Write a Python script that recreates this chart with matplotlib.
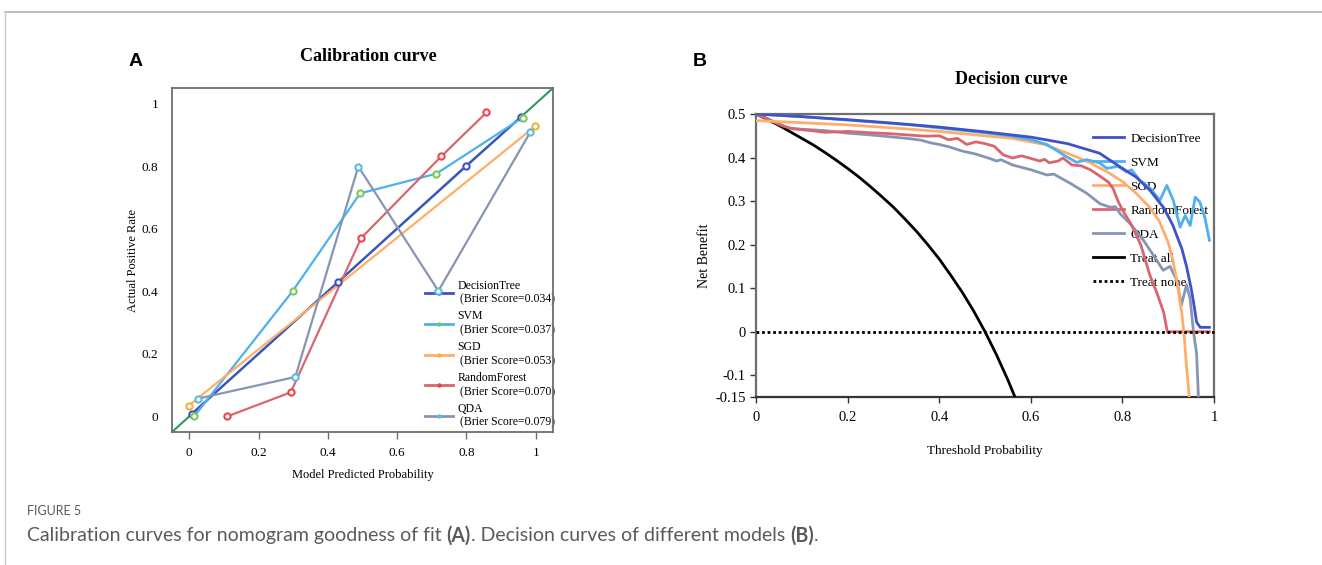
import matplotlib
matplotlib.use('Agg')
import matplotlib.pyplot as plt
from matplotlib.lines import Line2D

# ----------------------------------------------------------------------------------- #
#                                        Data                                         #
# ----------------------------------------------------------------------------------- #

# Calibration curve (A): mean predicted probability vs fraction of positives
models = ['DecisionTree', 'SVM', 'SGD', 'RandomForest', 'QDA']
brier = [0.034, 0.037, 0.053, 0.070, 0.079]

dt_pred = [0.008, 0.43, 0.798, 0.957]
dt_true = [0.009, 0.43, 0.80, 0.957]
svm_pred = [0.014, 0.298, 0.493, 0.713, 0.962]
svm_true = [0.0, 0.40, 0.713, 0.776, 0.955]
sgd_pred = [-0.002, 0.998]
sgd_true = [0.034, 0.927]
rf_pred = [0.110, 0.293, 0.496, 0.728, 0.858]
rf_true = [0.0, 0.077, 0.570, 0.832, 0.972]
qda_pred = [0.024, 0.306, 0.488, 0.719, 0.984]
qda_true = [0.0565, 0.126, 0.799, 0.401, 0.908]

# Decision curve (B): threshold probability vs net benefit
dt_thr = [0, 0.1, 0.2, 0.3, 0.4, 0.5, 0.6, 0.68, 0.75, 0.79, 0.83, 0.86, 0.89, 0.91,
          0.93, 0.94, 0.95, 0.955, 0.962, 0.97, 0.98, 0.99]
dt_nb = [0.5, 0.494, 0.487, 0.479, 0.47, 0.459, 0.447, 0.432, 0.41, 0.382, 0.355, 0.325,
         0.285, 0.245, 0.19, 0.15, 0.10, 0.07, 0.022, 0.01, 0.01, 0.01]

svm_thr = [0, 0.1, 0.2, 0.3, 0.35, 0.4, 0.5, 0.56, 0.6, 0.635, 0.678, 0.70, 0.722, 0.75,
           0.766, 0.79, 0.809, 0.82, 0.838, 0.86, 0.882, 0.897, 0.911, 0.926, 0.937,
           0.948, 0.959, 0.969, 0.98, 0.99]
svm_nb = [0.5, 0.494, 0.486, 0.478, 0.474, 0.468, 0.457, 0.449, 0.441, 0.43, 0.402, 0.389,
          0.395, 0.388, 0.375, 0.38, 0.367, 0.372, 0.348, 0.33, 0.302, 0.336, 0.302, 0.24,
          0.267, 0.244, 0.309, 0.298, 0.263, 0.21]

sgd_thr = [0, 0.1, 0.2, 0.3, 0.4, 0.5, 0.56, 0.63, 0.68, 0.73, 0.77, 0.8, 0.83, 0.86,
           0.88, 0.9, 0.91, 0.92, 0.93, 0.935, 0.94, 0.946]
sgd_nb = [0.485, 0.48, 0.475, 0.468, 0.46, 0.45, 0.444, 0.43, 0.41, 0.388, 0.365, 0.345,
          0.318, 0.285, 0.255, 0.205, 0.165, 0.11, 0.04, -0.01, -0.08, -0.15]

rf_thr = [0, 0.03, 0.06, 0.08, 0.12, 0.15, 0.2, 0.25, 0.29, 0.33, 0.37, 0.40, 0.42, 0.44,
          0.46, 0.48, 0.50, 0.52, 0.54, 0.56, 0.58, 0.60, 0.62, 0.63, 0.64, 0.66, 0.67,
          0.69, 0.71, 0.73, 0.75, 0.77, 0.78, 0.79, 0.80, 0.82, 0.84, 0.86, 0.875, 0.89,
          0.898, 0.93, 0.96, 0.99]
rf_nb = [0.5, 0.485, 0.472, 0.466, 0.462, 0.458, 0.46, 0.457, 0.455, 0.452, 0.449, 0.45,
         0.441, 0.444, 0.43, 0.436, 0.432, 0.426, 0.406, 0.399, 0.404, 0.398, 0.392, 0.396,
         0.388, 0.392, 0.399, 0.383, 0.381, 0.372, 0.358, 0.343, 0.328, 0.301, 0.28, 0.245,
         0.2, 0.13, 0.09, 0.045, 0.0, 0.0, 0.0, 0.0]

qda_thr = [0, 0.02, 0.04, 0.07, 0.1, 0.15, 0.2, 0.25, 0.29, 0.33, 0.36, 0.38, 0.40, 0.42,
           0.45, 0.48, 0.51, 0.525, 0.535, 0.56, 0.6, 0.635, 0.65, 0.686, 0.722, 0.751,
           0.773, 0.785, 0.795, 0.817, 0.846, 0.875, 0.889, 0.904, 0.918, 0.929, 0.94,
           0.948, 0.955, 0.962, 0.966]
qda_nb = [0.5, 0.492, 0.482, 0.468, 0.465, 0.462, 0.456, 0.452, 0.448, 0.444, 0.44, 0.434,
          0.43, 0.425, 0.415, 0.408, 0.398, 0.392, 0.395, 0.383, 0.372, 0.36, 0.362, 0.341,
          0.318, 0.294, 0.286, 0.287, 0.271, 0.248, 0.21, 0.164, 0.141, 0.15, 0.12, 0.062,
          0.108, 0.075, 0.002, -0.05, -0.15]

all_thr = [0, 0.025, 0.05, 0.075, 0.1, 0.125, 0.15, 0.175, 0.2, 0.225, 0.25, 0.275, 0.3,
           0.325, 0.35, 0.375, 0.4, 0.425, 0.45, 0.475, 0.5, 0.525, 0.55, 0.565]
all_nb = [0.5, 0.487, 0.474, 0.459, 0.444, 0.429, 0.412, 0.394, 0.375, 0.355, 0.333,
          0.31, 0.286, 0.259, 0.231, 0.2, 0.167, 0.13, 0.091, 0.048, 0.0, -0.053, -0.111,
          -0.149]

none_thr = [0, 1]
none_nb = [0, 0]

# ----------------------------------------------------------------------------------- #
#                                       Styles                                        #
# ----------------------------------------------------------------------------------- #

line_colors = ['#4152c6', '#4fb0ee', '#ffad6b', '#d9666f', '#8795b5']
marker_colors = ['#4152c6', '#7ec85a', '#f4b23a', '#e8474f', '#5bbbe0']
SPINE = '#6e6e6e'

plt.rcParams['font.family'] = ['Liberation Serif', 'DejaVu Serif']
plt.rcParams['font.size'] = 9.5

fig = plt.figure(figsize=(13.22, 5.65), dpi=100)

# page frame lines
fig.add_artist(Line2D([0.004, 1.0], [0.979, 0.979], color='#b0b0b0', lw=1.2))
fig.add_artist(Line2D([0.004, 0.004], [0.0, 0.979], color='#c8c8c8', lw=1.0))

# ----------------------------------------------------------------------------------- #
#                                 A: Calibration curve                                #
# ----------------------------------------------------------------------------------- #

ax1 = fig.add_axes([0.1301, 0.2354, 0.2882, 0.6088])
ax1.plot([-0.05, 1.05], [-0.05, 1.05], color='#2e9a5c', lw=1.5, zorder=1)

cal_pred = [dt_pred, svm_pred, sgd_pred, rf_pred, qda_pred]
cal_true = [dt_true, svm_true, sgd_true, rf_true, qda_true]
handles = []
for i, name in enumerate(models):
    ax1.plot(cal_pred[i], cal_true[i], color=line_colors[i], lw=1.6, zorder=2 + i * 0.1)
    ax1.plot(cal_pred[i], cal_true[i], ls='none', marker='o', ms=4.5, mfc='white',
             mec=marker_colors[i], mew=1.5, zorder=3)
    handles.append(Line2D([], [], color=line_colors[i], lw=2, marker='o', ms=2.2,
                          mfc=marker_colors[i], mec=marker_colors[i],
                          label=f'{name}\n (Brier Score={brier[i]:.3f})'))

ax1.set_xlim(-0.05, 1.05)
ax1.set_ylim(-0.05, 1.05)
ax1.set_xticks([0, 0.2, 0.4, 0.6, 0.8, 1])
ax1.set_xticklabels(['0', '0.2', '0.4', '0.6', '0.8', '1'])
ax1.set_yticks([0, 0.2, 0.4, 0.6, 0.8, 1])
ax1.set_yticklabels(['0', '0.2', '0.4', '0.6', '0.8', '1'])
ax1.tick_params(axis='x', direction='out', length=5, width=1, color=SPINE, pad=6)
ax1.tick_params(axis='y', length=0, pad=10)
for s in ax1.spines.values():
    s.set_color(SPINE)
    s.set_linewidth(1.3)
ax1.set_title('Calibration curve', fontsize=13, fontweight='bold', pad=19.5, x=0.514)
ax1.set_xlabel('Model Predicted Probability', fontsize=9, labelpad=7)
ax1.set_ylabel('Actual Positive Rate', fontsize=9, labelpad=2)

leg1 = ax1.legend(handles=handles, loc='lower left', bbox_to_anchor=(0.665, 0.01),
                  frameon=False, fontsize=8.5, handlelength=2.3, handletextpad=0.4,
                  labelspacing=0.42, borderpad=0, borderaxespad=0)
leg1.set_zorder(1.5)

# ----------------------------------------------------------------------------------- #
#                                 B: Decision curve                                   #
# ----------------------------------------------------------------------------------- #

ax2 = fig.add_axes([0.5719, 0.2973, 0.3464, 0.5009])

dc_thr = [dt_thr, svm_thr, sgd_thr, rf_thr, qda_thr]
dc_nb = [dt_nb, svm_nb, sgd_nb, rf_nb, qda_nb]
draw_order = [4, 3, 2, 1, 0]
for i in draw_order:
    ax2.plot(dc_thr[i], dc_nb[i], color=line_colors[i], lw=2, label=models[i],
             zorder=3 + (4 - i) * 0.1)
ax2.plot(all_thr, all_nb, color='black', lw=2, label='Treat all', zorder=3)
ax2.plot(none_thr, none_nb, color='black', lw=2, ls=(0, (1, 1)), label='Treat none',
         zorder=3.5, clip_on=False)

ax2.set_xlim(0, 1)
ax2.set_ylim(-0.15, 0.5)
ax2.set_xticks([0, 0.2, 0.4, 0.6, 0.8, 1])
ax2.set_xticklabels(['0', '0.2', '0.4', '0.6', '0.8', '1'])
ax2.set_yticks([-0.15, -0.1, 0, 0.1, 0.2, 0.3, 0.4, 0.5])
ax2.set_yticklabels(['-0.15', '-0.1', '0', '0.1', '0.2', '0.3', '0.4', '0.5'])
ax2.tick_params(axis='both', direction='out', length=4, width=1, color='#333333',
                labelsize=10.5)
ax2.tick_params(axis='x', pad=6)
for side, s in ax2.spines.items():
    s.set_linewidth(1.6)
    s.set_color('#333333' if side == 'bottom' else SPINE)
ax2.set_title('Decision curve', fontsize=13, fontweight='bold', pad=21.7, x=0.557)
ax2.set_xlabel('Threshold Probability', fontsize=9.5, labelpad=15)
ax2.set_ylabel('Net Benefit', fontsize=10, labelpad=3)

h, l = ax2.get_legend_handles_labels()
order = [l.index(n) for n in models + ['Treat all', 'Treat none']]
leg2 = ax2.legend([h[k] for k in order], [l[k] for k in order], loc='upper left',
                  bbox_to_anchor=(0.735, 0.934), frameon=False, fontsize=9.5,
                  handlelength=2.4, handletextpad=0.45, labelspacing=0.89,
                  borderpad=0, borderaxespad=0)
leg2.set_zorder(1.5)

# ----------------------------------------------------------------------------------- #
#                               Panel letters & caption                               #
# ----------------------------------------------------------------------------------- #

fig.text(0.097, 0.892, 'A', fontsize=14, fontweight='bold', family='Liberation Sans',
         ha='left', va='center')
fig.text(0.524, 0.892, 'B', fontsize=14, fontweight='bold', family='Liberation Sans',
         ha='left', va='center')
fig.text(0.0205, 0.095, 'FIGURE 5', fontsize=9, color='#5a5a5a', family='Lato',
         ha='left', va='center')

cap = [('Calibration curves for nomogram goodness of fit ', 'normal'), ('(A)', 'bold'),
       ('. Decision curves of different models ', 'normal'), ('(B)', 'bold'), ('.', 'normal')]
renderer = fig.canvas.get_renderer()
x = 0.0205
for txt, wt in cap:
    t = fig.text(x, 0.052, txt, fontsize=14.05, color='#5a5a5a', family='Lato',
                 fontweight=wt, ha='left', va='center')
    bb = t.get_window_extent(renderer=renderer)
    x += bb.width / fig.bbox.width

fig.savefig('out.png', dpi=100)
